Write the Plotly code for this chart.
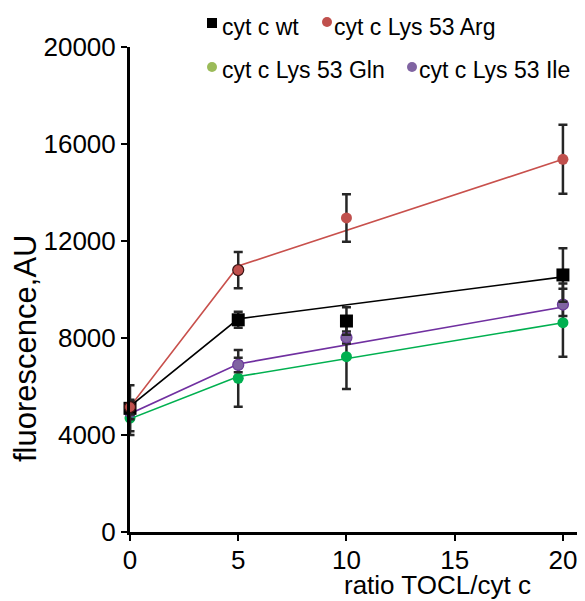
import plotly.graph_objects as go

# ---------------- data ----------------
x_vals = [0, 5, 10, 20]

wt = [5100, 8750, 8700, 10600]
wt_err = [950, 330, 565, 1100]

arg = [5150, 10800, 12950, 15370]
arg_err = [300, 750, 980, 1420]

gln = [4700, 6340, 7230, 8630]
gln_err = [700, 1170, 1330, 1400]

ile = [4950, 6890, 8020, 9380]
ile_err_plus = [300, 300, 250, 870]
ile_err_minus = [300, 300, 250, 470]

# connecting lines (drawn through 0, 5 and 20)
line_x = [0, 5, 20]
wt_line = [5180, 8790, 10520]
arg_line = [5160, 10970, 15370]
gln_line = [4670, 6410, 8630]
ile_line = [4880, 6930, 9280]

x_ticks = [0, 5, 10, 15, 20]
y_ticks = [0, 4000, 8000, 12000, 16000, 20000]

legend_names = ["cyt c wt", "cyt c Lys 53 Arg", "cyt c Lys 53 Gln", "cyt c Lys 53 Ile"]

# ---------------- styling ----------------
FONT = "Liberation Sans, Arial, sans-serif"
OFF = 8  # default page body margin
W, H = 585 - OFF, 601 - OFF
# plot area in screen pixels: left 130, right 577, top 47, bottom 532
ML, MT = 130 - OFF, 47 - OFF
MR = W - (577 - OFF)
MB = H - (532 - OFF)
PW = W - ML - MR
PH = H - MT - MB


def px_x(px):
    return (px - OFF - ML) / PW


def px_y(py):
    return (H - MB - (py - OFF)) / PH


ERR_COLOR = "#262626"
err_kw = dict(type="data", visible=True, color=ERR_COLOR, thickness=2.5, width=4.5)

fig = go.Figure()

# lines
for ys, col in [(arg_line, "#C8504C"), (wt_line, "#000000"),
                 (ile_line, "#7030A0"), (gln_line, "#00B050")]:
    fig.add_trace(go.Scatter(x=line_x, y=ys, mode="lines",
                             line=dict(color=col, width=1.6),
                             showlegend=False, hoverinfo="skip", cliponaxis=False))

# markers with error bars
fig.add_trace(go.Scatter(
    x=x_vals, y=gln, mode="markers", name=legend_names[2],
    marker=dict(symbol="circle", size=11, color="#00B050", line=dict(width=0)),
    error_y=dict(array=gln_err, **err_kw), cliponaxis=False, showlegend=False))
fig.add_trace(go.Scatter(
    x=x_vals, y=ile, mode="markers", name=legend_names[3],
    marker=dict(symbol="circle", size=11, color="#8064A2", line=dict(width=1.2, color="#6A3A9A")),
    error_y=dict(array=ile_err_plus, arrayminus=ile_err_minus, symmetric=False, **err_kw),
    cliponaxis=False, showlegend=False))
fig.add_trace(go.Scatter(
    x=x_vals, y=wt, mode="markers", name=legend_names[0],
    marker=dict(symbol="square", size=13, color="#000000", line=dict(width=0)),
    error_y=dict(array=wt_err, **err_kw), cliponaxis=False, showlegend=False))
fig.add_trace(go.Scatter(
    x=x_vals, y=arg, mode="markers", name=legend_names[1],
    marker=dict(symbol="circle", size=11, color="#C0504D",
                line=dict(width=[1.2, 1.2, 0, 0], color="#3A1414")),
    error_y=dict(array=arg_err, **err_kw), cliponaxis=False, showlegend=False))

# ---------------- custom legend ----------------
shapes = []
annotations = []
legend_items = [
    # (marker center px x, y, kind, color, text left px, text center y, label)
    (212, 23, "square", "#000000", 220, 27, legend_names[0]),
    (327, 22, "circle", "#C0504D", 332, 27, legend_names[1]),
    (212, 67, "circle", "#9BBB59", 220, 70, legend_names[2]),
    (412, 67, "circle", "#8064A2", 417, 70, legend_names[3]),
]
for mx, my, kind, col, tx, ty, name in legend_items:
    r = 5
    shapes.append(dict(type="rect" if kind == "square" else "circle",
                       xref="paper", yref="paper",
                       xsizemode="pixel", ysizemode="pixel",
                       xanchor=px_x(mx), yanchor=px_y(my),
                       x0=-r, x1=r, y0=-r, y1=r,
                       fillcolor=col, line=dict(width=0)))
    annotations.append(dict(text=name, xref="paper", yref="paper",
                            x=px_x(tx), y=px_y(ty), xanchor="left", yanchor="middle",
                            showarrow=False, font=dict(family=FONT, size=23, color="#000")))

# axis titles
annotations.append(dict(text="ratio TOCL/cyt c", xref="paper", yref="paper",
                        x=px_x(437), y=px_y(585), xanchor="center", yanchor="middle",
                        showarrow=False, font=dict(family=FONT, size=26, color="#000")))
annotations.append(dict(text="fluorescence,AU", xref="paper", yref="paper",
                        x=px_x(25), y=px_y(349), xanchor="center", yanchor="middle",
                        textangle=-90, showarrow=False,
                        font=dict(family=FONT, size=31, color="#000")))

fig.update_layout(
    width=W, height=H,
    margin=dict(l=ML, r=MR, t=MT, b=MB, pad=0, autoexpand=False),
    paper_bgcolor="white", plot_bgcolor="white",
    font=dict(family=FONT, size=26, color="#000"),
    shapes=shapes, annotations=annotations,
    showlegend=False,
)
fig.update_xaxes(range=[0, 20.65], tickvals=x_ticks, ticks="outside", ticklen=6, tickwidth=2,
                 tickcolor="#000", showline=True, linewidth=3, linecolor="#000",
                 showgrid=False, zeroline=False, tickfont=dict(size=26, family=FONT),
                 ticklabelstandoff=-3)
fig.update_yaxes(range=[0, 20000], tickvals=y_ticks, tickformat="d", ticks="outside", ticklen=6,
                 tickwidth=2, tickcolor="#000", showline=True, linewidth=3, linecolor="#000",
                 showgrid=False, zeroline=False, tickfont=dict(size=26, family=FONT))

fig.write_html("out.html")
